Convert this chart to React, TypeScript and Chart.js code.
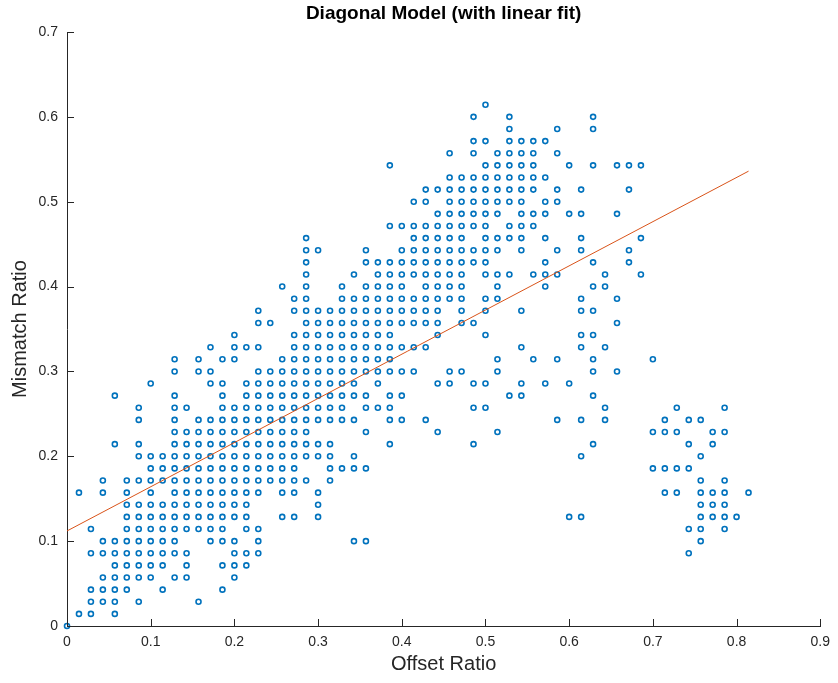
import React, { useEffect, useRef } from "react";
import { Chart, registerables } from "chart.js";

Chart.register(...registerables);

// Both ratios sit on a 1/70 grid; values below are grid counts.
const GRID_DENOMINATOR = 70;

// Mismatch counts (row index) -> list of offset counts present in that row.
const mismatchCounts: number[] = [
  0, 1, 2, 3, 4, 5, 6, 7, 8, 9, 10, 11, 12, 13, 14, 15, 16, 17, 18, 19, 20, 21,
  22, 23, 24, 25, 26, 27, 28, 29, 30, 31, 32, 33, 34, 35, 36, 37, 38, 39, 40,
  41, 42, 43,
];

const offsetCountsByRow: number[][] = [
  [0],
  [1, 2, 4],
  [2, 3, 4, 6, 11],
  [2, 3, 4, 5, 8, 13],
  [3, 4, 5, 6, 7, 9, 10, 14],
  [4, 5, 6, 7, 8, 10, 13, 14, 15],
  [2, 3, 4, 5, 6, 7, 8, 9, 10, 14, 15, 16, 52],
  [3, 4, 5, 6, 7, 8, 9, 12, 13, 14, 16, 24, 25, 53],
  [2, 5, 6, 7, 8, 9, 10, 11, 12, 13, 15, 16, 52, 53, 55],
  [5, 6, 7, 8, 9, 10, 11, 12, 13, 14, 15, 18, 19, 21, 42, 43, 53, 54, 55, 56],
  [5, 6, 7, 8, 9, 10, 11, 12, 13, 14, 15, 21, 53, 54, 55],
  [1, 3, 5, 7, 9, 10, 11, 12, 13, 14, 15, 16, 18, 19, 21, 50, 51, 53, 54, 55, 57],
  [3, 5, 6, 7, 8, 9, 10, 11, 12, 13, 14, 15, 16, 17, 18, 19, 20, 22, 53, 55],
  [7, 8, 9, 10, 11, 12, 13, 14, 15, 16, 17, 18, 19, 22, 23, 24, 25, 49, 50, 51, 52],
  [6, 7, 8, 9, 10, 11, 12, 13, 14, 15, 16, 17, 18, 19, 20, 21, 22, 24, 43, 53],
  [4, 6, 9, 10, 11, 12, 13, 14, 15, 16, 17, 18, 19, 20, 21, 22, 27, 34, 44, 52, 54],
  [9, 10, 11, 12, 13, 14, 15, 16, 17, 18, 19, 20, 25, 31, 36, 49, 50, 51, 54, 55],
  [6, 9, 11, 12, 13, 14, 15, 16, 17, 18, 19, 20, 21, 22, 23, 24, 27, 28, 30, 41, 43, 45, 50, 52, 53],
  [6, 9, 10, 13, 14, 15, 16, 17, 18, 19, 20, 21, 22, 23, 25, 26, 27, 34, 35, 45, 51, 55],
  [4, 9, 13, 15, 16, 17, 18, 19, 20, 21, 22, 23, 24, 25, 27, 28, 37, 38, 44],
  [7, 12, 13, 15, 16, 17, 18, 19, 20, 21, 22, 23, 24, 26, 31, 32, 34, 35, 38, 40, 42],
  [9, 11, 12, 16, 17, 18, 19, 20, 21, 22, 23, 24, 25, 26, 27, 28, 29, 32, 33, 36, 44, 46],
  [9, 11, 13, 14, 18, 19, 20, 21, 22, 23, 24, 25, 26, 27, 36, 39, 41, 44, 49],
  [12, 14, 15, 16, 19, 20, 21, 22, 23, 24, 25, 26, 27, 28, 29, 30, 38, 43, 45],
  [14, 19, 20, 21, 22, 23, 24, 25, 26, 27, 31, 35, 43, 44],
  [16, 17, 20, 21, 22, 23, 24, 25, 26, 27, 28, 29, 30, 31, 33, 34, 46],
  [16, 19, 20, 21, 22, 23, 24, 25, 26, 27, 28, 29, 30, 31, 33, 35, 38, 43, 44],
  [19, 20, 23, 24, 25, 26, 27, 28, 29, 30, 31, 32, 33, 35, 36, 43, 46],
  [18, 20, 23, 25, 26, 27, 28, 30, 31, 32, 33, 36, 40, 44, 45],
  [20, 24, 26, 27, 28, 29, 30, 31, 32, 33, 35, 36, 37, 39, 40, 41, 45, 48],
  [20, 25, 26, 27, 28, 29, 30, 31, 32, 33, 34, 35, 40, 44, 47],
  [20, 21, 25, 28, 29, 30, 31, 32, 33, 34, 35, 36, 38, 41, 43, 47],
  [20, 29, 30, 31, 32, 33, 35, 36, 37, 38, 40, 43, 48],
  [27, 28, 29, 30, 31, 32, 33, 34, 35, 37, 38, 39],
  [31, 32, 33, 34, 35, 36, 38, 39, 40, 42, 43, 46],
  [29, 30, 32, 33, 34, 35, 36, 37, 38, 40, 41],
  [30, 31, 32, 33, 34, 35, 36, 37, 38, 39, 41, 43, 47],
  [32, 33, 34, 35, 36, 37, 38, 39, 40],
  [27, 35, 36, 37, 38, 39, 42, 44, 46, 47, 48],
  [32, 34, 36, 37, 38, 39, 41],
  [34, 35, 37, 38, 39, 40],
  [37, 41, 44],
  [34, 37, 44],
  [35],
];

// Linear fit line endpoints
const fitOffset: number[] = [0, 0.8143];
const fitMismatch: number[] = [0.112, 0.536];

const xTicks: number[] = [0, 0.1, 0.2, 0.3, 0.4, 0.5, 0.6, 0.7, 0.8, 0.9];
const yTicks: number[] = [0, 0.1, 0.2, 0.3, 0.4, 0.5, 0.6, 0.7];

const TITLE = "Diagonal Model (with linear fit)";
const X_LABEL = "Offset Ratio";
const Y_LABEL = "Mismatch Ratio";

const FONT = "'Liberation Sans', Helvetica, Arial, sans-serif";
const INK = "#262626";

const fmt = (v: number) => {
  const r = Math.round(v * 10) / 10;
  return r === 0 ? "0" : r.toFixed(1);
};

const inwardTicks = {
  id: "inwardTicks",
  afterDraw(chart: any) {
    const { ctx, chartArea, scales } = chart;
    ctx.save();
    ctx.strokeStyle = INK;
    ctx.lineWidth = 1;
    ctx.beginPath();
    scales.x.ticks.forEach((t: any) => {
      const px = Math.round(scales.x.getPixelForValue(t.value)) + 0.5;
      ctx.moveTo(px, chartArea.bottom);
      ctx.lineTo(px, chartArea.bottom - 7);
    });
    scales.y.ticks.forEach((t: any) => {
      const py = Math.round(scales.y.getPixelForValue(t.value)) + 0.5;
      ctx.moveTo(chartArea.left, py);
      ctx.lineTo(chartArea.left + 7, py);
    });
    ctx.stroke();
    ctx.restore();
  },
};

export default function App() {
  const canvasRef = useRef<HTMLCanvasElement | null>(null);

  useEffect(() => {
    if (!canvasRef.current) return;
    const points: { x: number; y: number }[] = [];
    offsetCountsByRow.forEach((row, i) => {
      row.forEach((k) => {
        points.push({ x: k / GRID_DENOMINATOR, y: mismatchCounts[i] / GRID_DENOMINATOR });
      });
    });
    const fitPoints = fitOffset.map((x, i) => ({ x, y: fitMismatch[i] }));

    const chart = new Chart(canvasRef.current, {
      type: "scatter",
      data: {
        datasets: [
          {
            type: "line",
            label: "fit",
            data: fitPoints,
            borderColor: "#D95319",
            borderWidth: 1,
            pointRadius: 0,
            fill: false,
            order: 0,
          } as any,
          {
            label: "data",
            data: points,
            pointStyle: "circle",
            pointRadius: 2.5,
            pointBorderWidth: 1.6,
            pointBorderColor: "#0072BD",
            pointBackgroundColor: "rgba(255,255,255,0)",
            clip: false,
            order: 1,
          } as any,
        ],
      },
      options: {
        responsive: false,
        animation: false,
        devicePixelRatio: 1,
        layout: { padding: { left: 0, right: 13, top: 0, bottom: 0 } },
        plugins: {
          legend: { display: false },
          tooltip: { enabled: false },
          title: {
            display: true,
            text: TITLE,
            fullSize: false,
            color: "#000000",
            font: { family: FONT, size: 19, weight: "bold", lineHeight: 1.2 },
            padding: { top: 2.5, bottom: 6.7 },
          },
        },
        scales: {
          x: {
            type: "linear",
            min: 0,
            max: 0.9,
            afterBuildTicks: (s: any) => {
              s.ticks = xTicks.map((v) => ({ value: v }));
            },
            afterFit: (s: any) => {
              s.height = 57;
            },
            ticks: {
              color: INK,
              font: { family: FONT, size: 14 },
              padding: 8,
              maxRotation: 0,
              autoSkip: false,
              callback: (v: any) => fmt(Number(v)),
            },
            grid: { display: false, drawTicks: false },
            border: { display: true, color: INK, width: 1 },
            title: {
              display: true,
              text: X_LABEL,
              color: INK,
              font: { family: FONT, size: 20, lineHeight: 1.2 },
              padding: { top: 0, bottom: 7 },
            },
          },
          y: {
            type: "linear",
            min: 0,
            max: 0.7,
            afterBuildTicks: (s: any) => {
              s.ticks = yTicks.map((v) => ({ value: v }));
            },
            afterFit: (s: any) => {
              s.width = 67;
            },
            ticks: {
              color: INK,
              font: { family: FONT, size: 14 },
              padding: 9,
              autoSkip: false,
              callback: (v: any) => fmt(Number(v)),
            },
            grid: { display: false, drawTicks: false },
            border: { display: true, color: INK, width: 1 },
            title: {
              display: true,
              text: Y_LABEL,
              color: INK,
              font: { family: FONT, size: 20, lineHeight: 1.2 },
              padding: { top: 8, bottom: 0 },
            },
          },
        },
      } as any,
      plugins: [inwardTicks],
    });
    return () => chart.destroy();
  }, []);

  return (
    <div style={{ position: "fixed", left: 0, top: 0, width: 838, height: 683, background: "#fff" }}>
      <canvas ref={canvasRef} width={838} height={683} style={{ display: "block" }} />
    </div>
  );
}
